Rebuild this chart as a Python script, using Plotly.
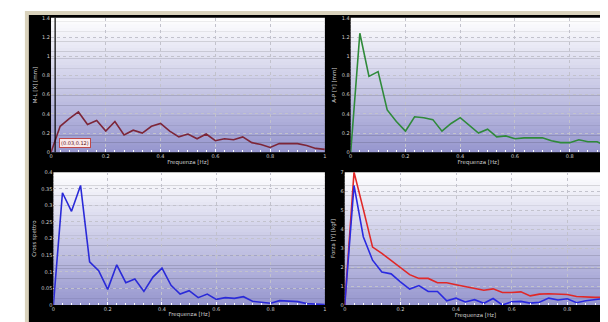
import plotly.graph_objects as go

# ---------------- data ----------------
freq = [i / 30 for i in range(31)]

ml_x = [0, 0.27, 0.35, 0.42, 0.29, 0.33, 0.22, 0.32, 0.18, 0.23, 0.20, 0.27, 0.30,
        0.22, 0.16, 0.19, 0.14, 0.19, 0.12, 0.14, 0.13, 0.16, 0.10, 0.08, 0.05,
        0.09, 0.09, 0.09, 0.07, 0.04, 0.03]

ap_y = [0, 1.24, 0.79, 0.84, 0.44, 0.32, 0.22, 0.37, 0.36, 0.34, 0.22, 0.30, 0.36,
        0.28, 0.20, 0.24, 0.16, 0.17, 0.14, 0.15, 0.15, 0.15, 0.12, 0.10, 0.10,
        0.13, 0.11, 0.11, 0.06]

cross = [0, 0.338, 0.282, 0.36, 0.13, 0.103, 0.047, 0.121, 0.067, 0.078, 0.041,
         0.084, 0.111, 0.059, 0.033, 0.043, 0.022, 0.033, 0.017, 0.022, 0.020,
         0.025, 0.011, 0.008, 0.005, 0.013, 0.011, 0.010, 0.004, 0.002, 0.001]

force_red = [0, 7.0, 5.05, 3.05, 2.72, 2.33, 1.98, 1.60, 1.40, 1.40, 1.17, 1.17, 1.07,
             0.98, 0.88, 0.78, 0.85, 0.66, 0.66, 0.69, 0.48, 0.57, 0.59, 0.57, 0.55,
             0.45, 0.41, 0.40, 0.40]
force_blue = [0, 6.3, 3.6, 2.36, 1.74, 1.64, 1.22, 0.84, 1.02, 0.71, 0.71, 0.22, 0.36,
              0.16, 0.28, 0.09, 0.34, 0.0, 0.17, 0.19, 0.10, 0.14, 0.36, 0.26, 0.33,
              0.12, 0.22, 0.28, 0.34]

cursor_x = 0.015
cursor_label = "(0.03,0.12)"

titles_y = ["M-L [X] [mm]", "A-P [Y] [mm]", "Cross spettro", "Forza [Y] [kgf]"]
title_x = "Frequenza [Hz]"

# ---------------- figure ----------------
OFF = 8  # page body margin
W, H = 608 - OFF, 322 - OFF
fig = go.Figure()

def px(v):
    return (v - OFF) / W

def py(v):
    return 1 - (v - OFF) / H

# frame: beige border then black panel
fig.add_shape(type="rect", xref="paper", yref="paper", x0=px(23), x1=1.01, y0=-0.01, y1=py(8),
              fillcolor="#d9d2bc", line=dict(width=0), layer="below")
fig.add_shape(type="rect", xref="paper", yref="paper", x0=px(27), x1=1.01, y0=-0.01, y1=py(12),
              fillcolor="#000000", line=dict(width=0), layer="below")

fig.add_trace(go.Scatter(x=freq[:len(ml_x)], y=ml_x, mode="lines",
                         line=dict(color="#7d2638", width=1.6), xaxis="x", yaxis="y",
                         showlegend=False))
fig.add_trace(go.Scatter(x=freq[:len(ap_y)], y=ap_y, mode="lines",
                         line=dict(color="#2f8a3a", width=1.6), xaxis="x2", yaxis="y2",
                         showlegend=False))
fig.add_trace(go.Scatter(x=freq[:len(cross)], y=cross, mode="lines",
                         line=dict(color="#2a2ad8", width=1.6), xaxis="x3", yaxis="y3",
                         showlegend=False))
fig.add_trace(go.Scatter(x=freq[:len(force_red)], y=force_red, mode="lines",
                         line=dict(color="#e02828", width=1.6), xaxis="x4", yaxis="y4",
                         showlegend=False))
fig.add_trace(go.Scatter(x=freq[:len(force_blue)], y=force_blue, mode="lines",
                         line=dict(color="#2a2ae0", width=1.6), xaxis="x4", yaxis="y4",
                         showlegend=False))

# gradient backgrounds
N = 40
top = (255, 255, 255)
bot = (150, 150, 206)
for ax in ["", "2", "3", "4"]:
    for i in range(N):
        t = (i + 0.5) / N
        c = tuple(int(round(top[k] + (bot[k] - top[k]) * t)) for k in range(3))
        y1 = 1 - i / N
        y0 = 1 - (i + 1) / N - 0.003
        fig.add_shape(type="rect", xref=f"x{ax} domain", yref=f"y{ax} domain",
                      x0=0, x1=1, y0=max(y0, 0), y1=y1,
                      fillcolor="rgb(%d,%d,%d)" % c, line=dict(width=0), layer="below")

# cursor line on first plot
fig.add_shape(type="line", xref="x", yref="y domain", x0=cursor_x, x1=cursor_x, y0=0, y1=1,
              line=dict(color="#000000", width=1.2))
fig.add_annotation(xref="x", yref="y", x=0.028, y=0.097, text=cursor_label, showarrow=False,
                   xanchor="left", yanchor="middle",
                   font=dict(family="DejaVu Sans", size=5, color="#5a1020"),
                   bgcolor="#fbe9e9", bordercolor="#c04848", borderwidth=1, borderpad=1)

tickfont = dict(family="DejaVu Sans", size=5, color="#cfcfcf")
titlefont = dict(family="DejaVu Sans", size=5.5, color="#cfcfcf")
grid = dict(showgrid=True, gridcolor="#c2c2cc", gridwidth=1, griddash="dot", zeroline=False,
            showline=False, tickfont=tickfont)

def xaxis(domain, rng, anchor):
    return dict(domain=domain, range=rng, anchor=anchor, tick0=0, dtick=0.2,
                ticks="inside", ticklen=3, tickcolor="#ffffff",
                minor=dict(dtick=1 / 30, ticks="inside", ticklen=2, tickcolor="#ffffff", showgrid=False),
                title=dict(text=title_x, font=titlefont, standoff=1), **grid)

def yaxis(domain, rng, dt, anchor, title):
    return dict(domain=domain, range=rng, anchor=anchor, tick0=0, dtick=dt,
                ticks="", title=dict(text=title, font=titlefont, standoff=4), **grid)

yd_top = [py(152), py(15)]
yd_bot = [py(307.7), py(172.3)]

fig.update_layout(
    width=W, height=H,
    margin=dict(l=0, r=0, t=0, b=0),
    paper_bgcolor="#ffffff",
    plot_bgcolor="rgba(0,0,0,0)",
    showlegend=False,
    xaxis=xaxis([px(49.3), px(325)], [0, 1], "y"),
    yaxis=yaxis(yd_top, [0, 1.4], 0.2, "x", titles_y[0]),
    xaxis2=xaxis([px(351), 1.0], [0, (608 - 351) / 275.6], "y2"),
    yaxis2=yaxis(yd_top, [0, 1.4], 0.2, "x2", titles_y[1]),
    xaxis3=xaxis([px(51.7), px(325)], [0, 1], "y3"),
    yaxis3=yaxis(yd_bot, [0, 0.4], 0.05, "x3", titles_y[2]),
    xaxis4=xaxis([px(345), 1.0], [0, (608 - 345) / 280.0], "y4"),
    yaxis4=yaxis(yd_bot, [0, 7], 1, "x4", titles_y[3]),
)

fig.write_html("out.html")
